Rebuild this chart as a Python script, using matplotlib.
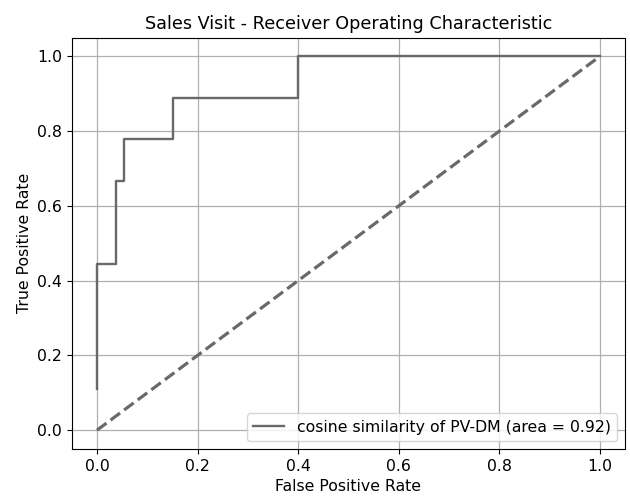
import matplotlib
matplotlib.use("Agg")
import matplotlib.pyplot as plt

fpr = [0.0, 0.0, 0.037, 0.037, 0.054, 0.054, 0.152, 0.152, 0.4, 0.4, 1.0]
tpr = [0.111, 0.444, 0.444, 0.667, 0.667, 0.778, 0.778, 0.889, 0.889, 1.0, 1.0]
roc_auc = 0.92
label = 'cosine similarity of PV-DM (area = %0.2f)' % roc_auc

plt.rcParams['font.size'] = 11.3
fig = plt.figure(figsize=(6.3, 4.96), dpi=100)
ax = fig.add_axes([0.114, 0.095, 0.878, 0.829])
ax.plot(fpr, tpr, color='dimgray', lw=1.7, label=label)
ax.plot([0, 1], [0, 1], color='dimgray', lw=2.3, linestyle='--')
ax.set_xlim(-0.05, 1.05)
ax.set_ylim(-0.05, 1.05)
ax.grid(True, color='#b0b0b0', lw=0.9)
ax.set_xlabel('False Positive Rate', fontsize=11.3)
ax.set_ylabel('True Positive Rate', fontsize=11.3)
ax.set_title('Sales Visit - Receiver Operating Characteristic', fontsize=12.7)
ax.legend(loc='lower right', fontsize=11.3)
fig.savefig('out.png', dpi=100)
